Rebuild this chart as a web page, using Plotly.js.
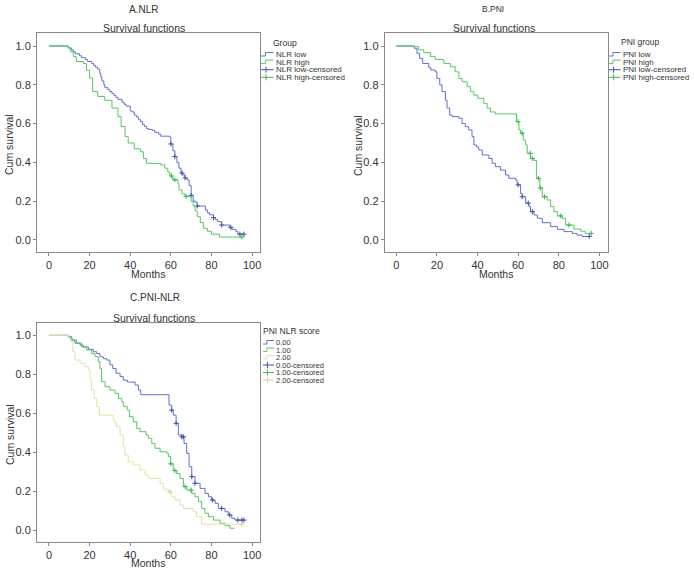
<!DOCTYPE html>
<html><head><meta charset="utf-8">
<script src="https://cdn.plot.ly/plotly-3.0.1.min.js"></script>
<style>html,body{margin:0;padding:0;background:#fff}#chart{width:694px;height:571px}</style>
</head><body><div id="chart"></div>
<script>
// ---------- Panel A: NLR ----------
const nlrLowT = [0,9.5,11,12,13,15,16,18,19,21,22,23,24,25,25.5,26,27,27.5,29,30,31,32,33,34,36,37,38,40,41,42,43,44,45,46,47,48,49,51,52,54,55,59.5,60,61,62,63,64,65,66,67,68,69,70,71,72,73,77,78,79,81,82,83,85,89,90,92,93,96];
const nlrLowS = [1,0.99,0.98,0.97,0.96,0.95,0.94,0.93,0.92,0.91,0.90,0.89,0.88,0.86,0.84,0.82,0.80,0.785,0.775,0.765,0.755,0.745,0.735,0.725,0.71,0.70,0.69,0.665,0.66,0.645,0.635,0.62,0.61,0.595,0.585,0.575,0.57,0.565,0.555,0.545,0.535,0.53,0.495,0.46,0.43,0.40,0.37,0.345,0.335,0.32,0.31,0.28,0.23,0.20,0.195,0.175,0.155,0.14,0.13,0.115,0.105,0.095,0.077,0.065,0.055,0.045,0.03,0.03];
const nlrLowCens = [60,62,65.5,67,70,73,81,85,89.5,94,96];
const nlrHighT = [0,9.5,10.5,12,13.5,17,18.5,20,21.5,24,27.5,31,34,35.5,37.5,39,42,45,46.5,48,55,57,58.5,59.5,61,63.5,64,65.5,67,70,71,72,73,74.5,76,78,80,84,95];
const nlrHighS = [1,0.99,0.97,0.945,0.92,0.91,0.875,0.835,0.765,0.74,0.72,0.68,0.636,0.585,0.533,0.50,0.47,0.455,0.42,0.395,0.387,0.37,0.35,0.33,0.31,0.29,0.258,0.238,0.225,0.20,0.175,0.15,0.12,0.09,0.06,0.045,0.03,0.015,0.015];
const nlrHighCens = [60.3,62,67.5,95];

// ---------- Panel B: PNI ----------
const pniLowT = [0,8.9,10.2,11.5,13,16,17,19.2,20,21.4,22.5,24.2,25,26.3,27.5,30.8,32.4,34,35.7,37.3,38.2,39.5,40.6,42.3,45.6,47.2,48.8,51.3,53.8,55.4,58.7,59.5,61.2,62,63.7,65.3,66.1,67.8,69.4,71.9,76,79.3,82.6,86.7,89,91.5,95];
const pniLowS = [1,0.988,0.962,0.936,0.91,0.89,0.876,0.867,0.833,0.80,0.765,0.72,0.68,0.644,0.636,0.627,0.60,0.584,0.567,0.533,0.49,0.48,0.464,0.438,0.42,0.395,0.378,0.36,0.335,0.318,0.31,0.284,0.24,0.223,0.19,0.172,0.146,0.129,0.112,0.089,0.069,0.055,0.043,0.034,0.025,0.018,0.018];
const pniLowCens = [60,62,65,67,95];
const pniHighT = [0,8.9,11,13.5,16.8,19.2,23.4,26.6,29,30.8,32.4,34.9,36.5,38.2,40.1,43.1,44.7,46.4,48.8,59.2,60.4,61.2,62.5,63.7,64.5,66.1,67.8,69.1,70.7,71.9,74.3,76,77.6,79.3,81.7,83.4,87.5,90.8,93,96];
const pniHighS = [1,0.997,0.98,0.966,0.945,0.93,0.91,0.893,0.867,0.833,0.816,0.79,0.765,0.747,0.73,0.704,0.68,0.66,0.65,0.61,0.567,0.55,0.515,0.49,0.447,0.42,0.41,0.318,0.268,0.223,0.206,0.172,0.146,0.124,0.112,0.077,0.056,0.045,0.034,0.034];
const pniHighCens = [60,62,66,67,70,71,73,81,85,96];

// ---------- Panel C: PNI-NLR score ----------
const s0T = [0,9.5,11.2,12.8,15.3,16.9,19.4,21.8,23.5,25.1,26.8,28.4,30,31.4,33,35,36.6,38.6,42.4,44,45.2,59.1,60.4,61.2,62.6,63.7,65.4,66.5,67.8,69,70.3,71.9,74.4,76.8,78.5,80.1,81.8,83.4,86.7,88.3,90,91.6,93,96];
const s0S = [1,0.993,0.976,0.96,0.95,0.94,0.928,0.916,0.907,0.89,0.88,0.873,0.848,0.83,0.805,0.788,0.77,0.76,0.745,0.72,0.695,0.642,0.616,0.59,0.548,0.488,0.479,0.445,0.394,0.325,0.274,0.24,0.214,0.188,0.171,0.154,0.137,0.111,0.094,0.077,0.06,0.051,0.051,0.051];
const s0Cens = [60.4,62.6,65.4,66.2,70.3,71.9,80.5,85,89,93,95,96];
const s1T = [0,9.5,11.2,13.6,16.1,18.6,21,22.7,24.3,25.1,25.9,27.6,30,32.5,34.2,35.8,36.6,38.6,39.6,41.5,43.2,44.8,47.8,48.9,50.6,52.2,54.7,58,58.8,59.9,61.2,62.9,64.5,66.2,67.8,70.3,71.9,73.6,75.2,76.8,78.5,81,84.2,86.7,89.2,91];
const s1S = [1,0.99,0.976,0.96,0.94,0.925,0.907,0.89,0.865,0.83,0.762,0.736,0.719,0.702,0.676,0.659,0.634,0.616,0.582,0.556,0.522,0.505,0.488,0.471,0.445,0.42,0.402,0.394,0.377,0.34,0.305,0.29,0.265,0.223,0.205,0.188,0.171,0.146,0.111,0.086,0.068,0.051,0.034,0.022,0.009,0.005];
const s1Cens = [60,62,67,70];
const s2T = [0,9.8,10.7,11.7,12.8,15.3,17.7,19.4,20.2,21,22.2,23.5,24.8,31.7,32.5,33.3,35,36.6,37.4,39,41.5,44.8,47.3,48.9,54.7,56.3,58.8,60.4,62,64.5,66.2,71.1,72.7,75.2,95];
const s2S = [1,0.985,0.967,0.916,0.873,0.856,0.839,0.822,0.77,0.719,0.676,0.634,0.59,0.565,0.548,0.531,0.488,0.428,0.385,0.351,0.334,0.308,0.283,0.265,0.24,0.21,0.197,0.171,0.154,0.128,0.111,0.094,0.068,0.03,0.03];
const s2Cens = [59.5,95];

// ---------- text ----------
const panelTitles = ['A.NLR','B.PNI','C.PNI-NLR'];
const subTitle = 'Survival functions';
const xTitle = 'Months';
const yTitle = 'Cum survival';
const legendTitles = ['Group','PNI group','PNI NLR score'];
const legendA = ['NLR low','NLR high','NLR low-censored','NLR high-censored'];
const legendB = ['PNI low','PNI high','PNI low-censored','PNI high-censored'];
const legendC = ['0.00','1.00','2.00','0.00-censored','1.00-censored','2.00-censored'];
const xTicks = [0,20,40,60,80,100];
const yTicks = [0,0.2,0.4,0.6,0.8,1.0];

// ---------- styling ----------
const BLUE='#6270c6', GREEN='#55c862', YEL='#e4e2a2';
const BLUE_C='#3f50b3', GREEN_C='#38b848', YEL_C='#d9d68a';
const W=694, H=571;
const px = x => x/W, py = y => 1 - y/H;
const FONT = 'Liberation Sans, Arial, sans-serif';

function stepAt(T,S,t){let v=S[0];for(let i=0;i<T.length;i++){if(T[i]<=t+1e-9)v=S[i];}return v;}

const traces = [];
function addSeries(T,S,cens,lc,cc,xa,ya){
  traces.push({type:'scatter',mode:'lines',x:T,y:S,xaxis:xa,yaxis:ya,line:{shape:'hv',color:lc,width:1},showlegend:false,hoverinfo:'skip'});
  traces.push({type:'scatter',mode:'markers',x:cens,y:cens.map(t=>stepAt(T,S,t)),xaxis:xa,yaxis:ya,
    marker:{symbol:'cross-thin',size:3.6,line:{width:1,color:cc},color:cc},showlegend:false,hoverinfo:'skip'});
}
addSeries(nlrLowT,nlrLowS,nlrLowCens,BLUE,BLUE_C,'x','y');
addSeries(nlrHighT,nlrHighS,nlrHighCens,GREEN,GREEN_C,'x','y');
addSeries(pniLowT,pniLowS,pniLowCens,BLUE,BLUE_C,'x2','y2');
addSeries(pniHighT,pniHighS,pniHighCens,GREEN,GREEN_C,'x2','y2');
addSeries(s0T,s0S,s0Cens,BLUE,BLUE_C,'x3','y3');
addSeries(s1T,s1S,s1Cens,GREEN,GREEN_C,'x3','y3');
addSeries(s2T,s2S,s2Cens,YEL,YEL_C,'x3','y3');

function xax(dom,rng,anchor){return {domain:dom,range:rng,anchor:anchor,tickvals:xTicks,ticks:'outside',ticklen:3,tickcolor:'#888',tickwidth:1,
  showline:true,mirror:true,linecolor:'#888',linewidth:1,showgrid:false,zeroline:false,tickfont:{size:11,color:'#333',family:FONT},fixedrange:true};}
function yax(dom,rng,anchor){return {domain:dom,range:rng,anchor:anchor,tickvals:yTicks,tickformat:'.1f',ticks:'outside',ticklen:3,tickcolor:'#888',tickwidth:1,
  showline:true,mirror:true,linecolor:'#888',linewidth:1,showgrid:false,zeroline:false,tickfont:{size:11,color:'#333',family:FONT},fixedrange:true};}

const annotations = [];
const shapes = [];
function txt(text,x,y,size,xanchor,angle){annotations.push({text:text,x:px(x),y:py(y),xref:'paper',yref:'paper',showarrow:false,
  xanchor:xanchor||'center',yanchor:'middle',textangle:angle||0,font:{size:size,color:'#333',family:FONT}});}

// titles
txt(panelTitles[0],143,9,10); txt(panelTitles[1],493,9,8.5); txt(panelTitles[2],155,297,10);
txt(subTitle,144,28,10.5); txt(subTitle,494,28,10.5); txt(subTitle,154,318,10.5);
txt(xTitle,148,274,10.5); txt(xTitle,496,274,10.5); txt(xTitle,148,563,10.5);
txt(yTitle,9,145,10.5,'center',-90); txt(yTitle,358,145,10.5,'center',-90); txt(yTitle,10,435,10.5,'center',-90);

// custom legends
function legend(title,tx,ty,labels,colors,kinds,sx0,sx1,y0,dy,fs){
  txt(title,tx,ty,8.5,'left');
  labels.forEach((lab,i)=>{
    const y=y0+i*dy;
    txt(lab,sx1,y,fs,'left');
    const c=colors[i];
    if(kinds[i]==='line'){
      const mx=sx0+(sx1-sx0)*0.35;
      shapes.push({type:'path',xref:'paper',yref:'paper',path:`M ${px(sx0)},${py(y+1.5)} L ${px(mx)},${py(y+1.5)} L ${px(mx)},${py(y-2)} L ${px(sx1)},${py(y-2)}`,line:{color:c,width:1}});
    } else {
      const mx=sx0+(sx1-sx0)*0.4;
      shapes.push({type:'line',xref:'paper',yref:'paper',x0:px(sx0),x1:px(sx1),y0:py(y),y1:py(y),line:{color:c,width:1}});
      shapes.push({type:'line',xref:'paper',yref:'paper',x0:px(mx),x1:px(mx),y0:py(y-3),y1:py(y+3),line:{color:c,width:1}});
    }
  });
}
legend(legendTitles[0],271,43,legendA,[BLUE,GREEN,BLUE_C,GREEN_C],['line','line','c','c'],261,273.5,54.5,7.6,8);
legend(legendTitles[1],619,42,legendB,[BLUE,GREEN,BLUE_C,GREEN_C],['line','line','c','c'],609,620.5,54.5,7.6,8);
legend(legendTitles[2],261,331,legendC,[BLUE,GREEN,YEL,BLUE_C,GREEN_C,YEL_C],['line','line','line','c','c','c'],263,274,342.5,7.5,7.5);

const layout = {
  width:W,height:H,margin:{l:0,r:0,t:0,b:0},paper_bgcolor:'#fff',plot_bgcolor:'#fff',showlegend:false,
  font:{family:FONT,color:'#333'},
  xaxis: xax([px(37),px(260)],[-5.9,103.9],'y'),
  yaxis: yax([py(252),py(33)],[-0.062,1.067],'x'),
  xaxis2: xax([px(384.7),px(607.7)],[-5.7,104.1],'y2'),
  yaxis2: yax([py(252),py(33)],[-0.062,1.067],'x2'),
  xaxis3: xax([px(37),px(260)],[-5.9,103.9],'y3'),
  yaxis3: yax([py(541.7),py(322.7)],[-0.060,1.065],'x3'),
  annotations:annotations, shapes:shapes
};
Plotly.newPlot('chart',traces,layout,{staticPlot:true,displayModeBar:false});
</script></body></html>
